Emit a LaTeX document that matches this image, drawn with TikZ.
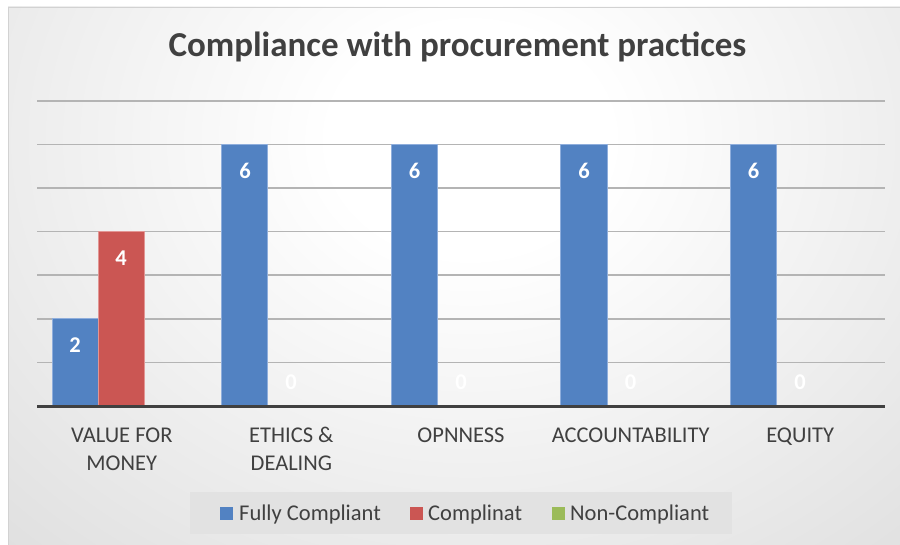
\documentclass[tikz,border=0pt]{standalone}
\usepackage{fontspec}
\setmainfont{Carlito}
\definecolor{bgout}{HTML}{C4C4C4}
\definecolor{txt}{HTML}{404040}
\definecolor{gridc}{HTML}{B4B4B4}
\definecolor{barblue}{HTML}{5282C2}
\definecolor{barblueedge}{HTML}{8FAEDC}
\definecolor{barred}{HTML}{CB5653}
\definecolor{barrededge}{HTML}{E29694}
\definecolor{bargreen}{HTML}{9BBB59}
\definecolor{legbg}{HTML}{E2E2E2}
\pgfdeclareradialshading{bgshade}{\pgfpoint{0bp}{0bp}}{color(0bp)=(white); color(6bp)=(white); color(50bp)=(bgout); color(70bp)=(bgout)}
\tikzset{
  px/.style={x=1pt,y=-1pt},
  gridline/.style={draw=gridc,line width=1.6pt},
  axisline/.style={draw=txt,line width=3pt},
  bluebar/.style={fill=barblue,draw=barblueedge,line width=0.8pt},
  redbar/.style={fill=barred,draw=barrededge,line width=0.8pt},
  vallabel/.style={text=white,font=\fontsize{22.5}{26}\selectfont\bfseries,inner sep=0pt},
  catlabel/.style={text=txt,font=\fontsize{22.5}{28}\selectfont,align=center,inner sep=0pt,anchor=base},
  leglabel/.style={text=txt,font=\fontsize{22.5}{26}\selectfont,inner sep=0pt,anchor=base west},
}
\begin{document}
\begin{tikzpicture}[px]
\useasboundingbox (0,0) rectangle (900,545);
\fill[white] (0,0) rectangle (900,545);
% chart background
\begin{scope}
  \clip (8,7) rectangle (900,545);
  \shade[shading=bgshade] (-110,-340) rectangle (1050,620);
\end{scope}
\draw[gray!35,line width=0.8pt] (8,545) -- (8,7) -- (900,7);
% title
\node[text=txt,font=\fontsize{35}{40}\selectfont\bfseries,anchor=base,inner sep=0pt] (title) at (457.5,57) {Compliance with procurement practices};
% gridlines
\foreach \v in {1,...,7} {
  \draw[gridline] (37,{406-43.6*\v}) -- (885,{406-43.6*\v});
}
% bars
\def\unit{43.6}
\def\base{406}
\foreach \c/\b/\r [count=\i] in {121.8/2/4, 291.4/6/0, 461/6/0, 630.6/6/0, 800.2/6/0} {
  \fill[bluebar] ({\c-69.8},\base) rectangle ({\c-23.6},{\base-\unit*\b});
  \ifnum\r>0
    \fill[redbar] ({\c-23.2},\base) rectangle ({\c+23},{\base-\unit*\r});
  \fi
}
\draw[axisline] (37,406) -- (885,406);
% value labels
\node[vallabel] (v1b) at (75,345) {2};
\node[vallabel] (v1r) at (121,258) {4};
\node[vallabel] (v2b) at (245,171) {6};
\node[vallabel] (v2r) at (291,382) {0};
\node[vallabel] (v3b) at (414.5,171) {6};
\node[vallabel] (v3r) at (461,382) {0};
\node[vallabel] (v4b) at (584,171) {6};
\node[vallabel] (v4r) at (630.5,382) {0};
\node[vallabel] (v5b) at (753.5,171) {6};
\node[vallabel] (v5r) at (800,382) {0};
% category labels
\node[catlabel] (c1) at (121.8,470) {VALUE FOR\\MONEY};
\node[catlabel] (c2) at (291.4,470) {ETHICS \&\\DEALING};
\node[catlabel] (c3) at (461,442) {OPNNESS};
\node[catlabel] (c4) at (630.6,442) {ACCOUNTABILITY};
\node[catlabel] (c5) at (800.2,442) {EQUITY};
% legend
\fill[legbg] (190,492) rectangle (732,534);
\fill[barblue] (220,507) rectangle (233,520);
\node[leglabel] (l1) at (239,520) {Fully Compliant};
\fill[barred] (410,507) rectangle (423,520);
\node[leglabel] (l2) at (428,520) {Complinat};
\fill[bargreen] (552,507) rectangle (565,520);
\node[leglabel] (l3) at (570,520) {Non-Compliant};
\end{tikzpicture}
\end{document}
